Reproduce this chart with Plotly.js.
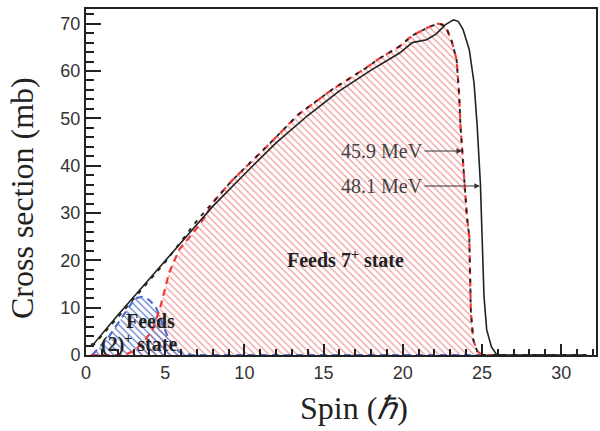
<!DOCTYPE html>
<html>
<head>
<meta charset="utf-8">
<script src="https://cdn.plot.ly/plotly-3.0.1.min.js"></script>
<style>html,body{margin:0;padding:0;background:#fff;}</style>
</head>
<body>
<div id="chart"></div>
<script>
// ---- Data ----
// Total cross section at 48.1 MeV (solid black)
var spin481 = [0.3, 0.5, 2, 4, 6, 8, 10, 12, 14, 16, 18, 19, 19.8, 20.6, 21.5, 22.1, 22.7, 23.2, 23.5, 23.8, 24.2, 24.5, 24.7, 24.9, 25.0, 25.13, 25.3, 25.6, 25.9, 26.2, 31.6];
var xs481   = [2.2, 2.4, 8.4, 16.1, 23.9, 31.4, 38.2, 44.8, 50.6, 55.8, 60.2, 62.2, 63.8, 66.0, 66.6, 67.8, 69.8, 70.8, 70.5, 68.8, 64.5, 57.5, 48.3, 36.3, 27.0, 12.3, 5.3, 1.7, 0.2, 0, 0];

// Total cross section at 45.9 MeV (dashed black)
var spin459 = [0.4, 1, 2, 3, 4, 5, 6, 7.1, 8, 9.2, 11.4, 13.4, 15.5, 17.7, 18.5, 19.8, 20.6, 21.2, 21.65, 22.2, 22.5, 22.8, 23.1, 23.4, 23.55, 23.65, 23.76, 24.05, 24.2, 24.3, 24.45, 24.7, 25.0, 31.6];
var xs459   = [1.8, 4.0, 7.9, 11.8, 15.6, 19.6, 24.0, 28.8, 32.2, 36.8, 44.0, 50.8, 56.0, 60.7, 62.6, 65.2, 67.5, 68.5, 69.3, 70.0, 69.8, 68.7, 66.2, 62.4, 55.4, 48.2, 43.3, 29.2, 25.0, 9.0, 3.2, 0.8, 0, 0];

// Part feeding the 7+ state (red dashed, red hatch)
var spin7 = [0.3, 2.4, 3.0, 3.6, 4.2, 4.7, 5.24, 5.87, 6.9, 7.6, 8, 9.2, 11.4, 13.4, 15.5, 17.7, 18.5, 19.8, 20.6, 21.2, 21.65, 22.2, 22.5, 22.8, 23.1, 23.4, 23.55, 23.65, 23.76, 24.05, 24.2, 24.3, 24.45, 24.7, 25.0, 29.5];
var xs7   = [0, 0, 0.8, 2.6, 5.3, 10.2, 17.3, 22.2, 26.4, 29.6, 32.2, 36.8, 44.0, 50.8, 56.0, 60.7, 62.6, 65.2, 67.5, 68.5, 69.3, 70.0, 69.8, 68.7, 66.2, 62.4, 55.4, 48.2, 43.3, 29.2, 25.0, 9.0, 3.2, 0.8, 0, 0];

// Part feeding the (2)+ state (blue dashed, blue hatch)
var spin2 = [0.4, 1.45, 2.3, 3.1, 3.55, 4.0, 4.4, 4.9, 5.24, 5.87, 6.7, 25.0];
var xs2   = [0, 3.9, 8.1, 12.0, 12.3, 11.6, 10.2, 6.0, 3.2, 0.7, 0, 0];

// Axis ranges and tick steps (major / minor)
var xRange = [0, 32.2], yRange = [0, 73.1];
var xTickStep = 5, xMinorStep = 1;
var yTickStep = 10, yMinorStep = 2;

var serif = 'Liberation Serif, Times New Roman, serif';
var sans = 'Liberation Sans, Arial, Helvetica, sans-serif';

var traces = [
  { x: spin7, y: xs7, type: 'scatter', mode: 'lines', fill: 'tozeroy',
    fillcolor: 'rgba(0,0,0,0)',
    fillpattern: {shape: '\\', size: 5, solidity: 0.25, fgcolor: 'rgba(238,120,120,0.75)', bgcolor: 'rgba(0,0,0,0)'},
    line: {color: 'rgba(0,0,0,0)', width: 0}, hoverinfo: 'skip' },
  { x: spin2, y: xs2, type: 'scatter', mode: 'lines', fill: 'tozeroy',
    fillcolor: 'rgba(0,0,0,0)',
    fillpattern: {shape: '\\', size: 5, solidity: 0.28, fgcolor: 'rgba(80,110,205,0.85)', bgcolor: 'rgba(0,0,0,0)'},
    line: {color: 'rgba(0,0,0,0)', width: 0}, hoverinfo: 'skip' },
  { x: spin2, y: xs2, type: 'scatter', mode: 'lines', name: '(2)+',
    line: {color: '#4a6fd0', width: 2.2, dash: '7px,5px'} },
  { x: spin7, y: xs7, type: 'scatter', mode: 'lines', name: '7+',
    line: {color: '#f03a3a', width: 2.2, dash: '7px,5px'} },
  { x: spin459, y: xs459, type: 'scatter', mode: 'lines', name: '45.9 MeV',
    line: {color: '#222', width: 1.8, dash: '4px,6px'} },
  { x: spin481, y: xs481, type: 'scatter', mode: 'lines', name: '48.1 MeV',
    line: {color: '#222', width: 1.6} }
];

var layout = {
  width: 600, height: 431,
  margin: {l: 86, r: 4, t: 9, b: 76},
  showlegend: false,
  xaxis: {
    range: xRange, dtick: xTickStep,
    ticks: 'inside', ticklen: 11, tickwidth: 2, tickcolor: '#222',
    minor: {dtick: xMinorStep, ticks: 'inside', ticklen: 6},
    showline: true, linecolor: '#222', linewidth: 2, mirror: true,
    showgrid: false, zeroline: false,
    tickfont: {family: sans, size: 18, color: '#333'}
  },
  yaxis: {
    range: yRange, dtick: yTickStep,
    ticks: 'inside', ticklen: 15, tickwidth: 2, tickcolor: '#222',
    minor: {dtick: yMinorStep, ticks: 'inside', ticklen: 8},
    showline: true, linecolor: '#222', linewidth: 2, mirror: true,
    showgrid: false, zeroline: false,
    tickfont: {family: sans, size: 18, color: '#333'}
  },
  annotations: [
    {x: 0, y: 0.5, xref: 'paper', yref: 'paper', xanchor: 'center', yanchor: 'middle', showarrow: false,
     textangle: -90, xshift: -64, yshift: -16,
     text: 'Cross section (mb)', font: {family: serif, size: 32, color: '#222'}},
    {x: 0.5, y: 0, xref: 'paper', yref: 'paper', xanchor: 'center', yanchor: 'middle', showarrow: false,
     xshift: 13, yshift: -53,
     text: 'Spin (<i>ℏ</i>)', font: {family: serif, size: 32, color: '#222'}},
    {x: 16.38, y: 20.3, xref: 'x', yref: 'y', showarrow: false,
     text: '<b>Feeds 7<sup>+</sup> state</b>', font: {family: serif, size: 20, color: '#222'}},
    {x: 4.07, y: 7.2, xref: 'x', yref: 'y', showarrow: false,
     text: '<b>Feeds</b>', font: {family: serif, size: 20, color: '#222'}},
    {x: 3.34, y: 2.4, xref: 'x', yref: 'y', showarrow: false,
     text: '<b>(2)<sup>+</sup> state</b>', font: {family: serif, size: 20, color: '#222'}},
    {x: 23.74, y: 43.1, xref: 'x', yref: 'y', axref: 'pixel', ayref: 'pixel', ax: -80, ay: 0,
     showarrow: true, arrowhead: 2, arrowsize: 1, arrowwidth: 1.1, arrowcolor: '#333',
     text: '45.9 MeV', font: {family: serif, size: 20, color: '#444'}},
    {x: 24.87, y: 35.7, xref: 'x', yref: 'y', axref: 'pixel', ayref: 'pixel', ax: -98, ay: 0,
     showarrow: true, arrowhead: 2, arrowsize: 1, arrowwidth: 1.1, arrowcolor: '#333',
     text: '48.1 MeV', font: {family: serif, size: 20, color: '#444'}}
  ]
};

Plotly.newPlot('chart', traces, layout, {staticPlot: true});
</script>
</body>
</html>
